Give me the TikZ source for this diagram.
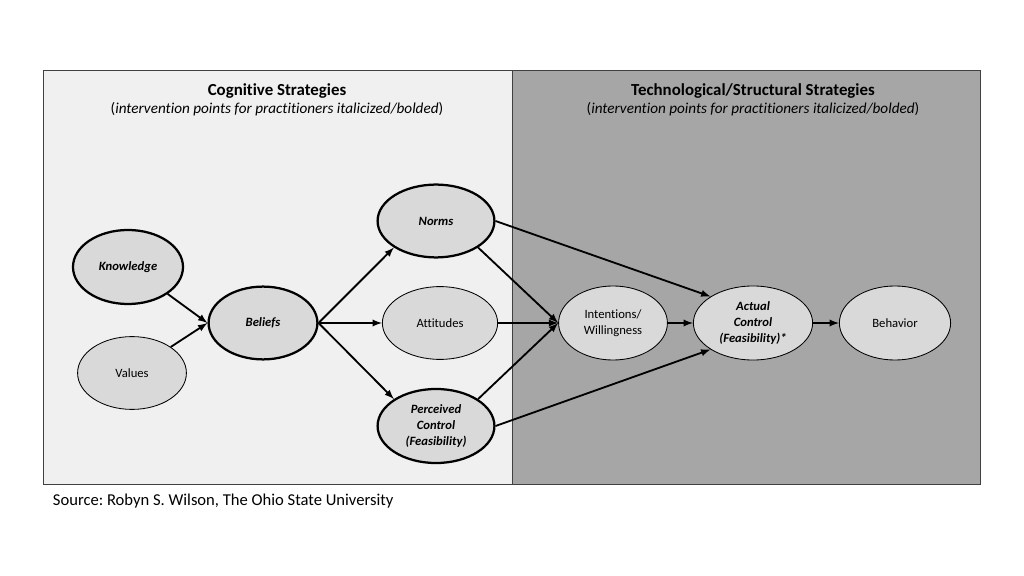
\documentclass[tikz,border=0pt]{standalone}
\usepackage{fontspec}
\setmainfont{Carlito}[Ligatures=NoCommon]
\frenchspacing
\usetikzlibrary{shapes.geometric}
\definecolor{leftbg}{RGB}{240,240,240}
\definecolor{rightbg}{RGB}{166,166,166}
\definecolor{ovalfill}{RGB}{217,217,217}
\definecolor{framegray}{RGB}{64,64,64}
\begin{document}
\begin{tikzpicture}[x=0.025cm, y=-0.025cm,
	oval/.style={draw, ellipse, fill=ovalfill, line width=0.6pt, inner sep=0pt,
		minimum width=2.75cm, minimum height=1.85cm, align=center,
		font=\fontsize{9}{11.4}\selectfont},
	keynode/.style={oval, line width=1.6pt, font=\fontsize{9}{11.4}\selectfont\bfseries\itshape},
	arr/.style={-latex, line width=1.3pt}]
	\useasboundingbox (0,0) rectangle (1024,576);
	
	% two panels
	\draw[framegray, fill=leftbg, line width=0.7pt] (43,70) rectangle (512,484);
	\draw[framegray, fill=rightbg, line width=0.7pt] (512,70) rectangle (980,484);
	
	\node[anchor=base, font=\fontsize{12}{14}\selectfont\bfseries] (cogtitle) at (277,96) {Cognitive Strategies};
	\node[anchor=base, font=\fontsize{10.8}{13}\selectfont] (cogsub) at (277,114) {(\textit{intervention points for practitioners italicized/bolded})};
	\node[anchor=base, font=\fontsize{12}{14}\selectfont\bfseries] (techtitle) at (753,96) {Technological/Structural Strategies};
	\node[anchor=base, font=\fontsize{10.8}{13}\selectfont] (techsub) at (753,114) {(\textit{intervention points for practitioners italicized/bolded})};
	
	% ovals
	\node[keynode] (know) at (128,267) {Knowledge};
	\node[oval, minimum width=2.72cm, minimum height=1.82cm] (values) at (132,373) {Values};
	\node[keynode, minimum width=2.72cm, minimum height=1.82cm] (beliefs) at (263,323) {Beliefs};
	\node[keynode, minimum width=2.92cm, minimum height=1.82cm] (norms) at (436,221) {Norms};
	\node[oval, minimum width=2.88cm, minimum height=1.82cm] (att) at (440,323) {Attitudes};
	\node[keynode, minimum width=2.92cm] (perc) at (436,426) {Perceived\\Control\\(Feasibility)};
	\node[oval, minimum width=2.72cm] (intent) at (613,323) {Intentions/\\Willingness};
	\node[oval, minimum width=2.98cm, font=\fontsize{9}{11.4}\selectfont\bfseries\itshape] (actual) at (753,323) {Actual\\Control\\(Feasibility)*};
	\node[oval, minimum width=2.78cm] (behav) at (895,323) {Behavior};
	
	% arrows
	\draw[arr] (know.south east) -- (beliefs.west);
	\draw[arr] (values.north east) -- (beliefs.west);
	\draw[arr] (beliefs.east) -- (norms.south west);
	\draw[arr] (beliefs.east) -- (att.west);
	\draw[arr] (beliefs.east) -- (perc.north west);
	\draw[arr] (norms.south east) -- (intent.west);
	\draw[arr] (att.east) -- (intent.west);
	\draw[arr] (perc.north east) -- (intent.west);
	\draw[arr] (norms.east) -- (actual.north west);
	\draw[arr] (perc.east) -- (actual.south west);
	\draw[arr] (intent.east) -- (actual.west);
	\draw[arr] (actual.east) -- (behav.west);
	
	\node[anchor=base west, font=\fontsize{11.8}{14}\selectfont] (source) at (48,505) {Source: Robyn S. Wilson, The Ohio State University};
\end{tikzpicture}
\end{document}
